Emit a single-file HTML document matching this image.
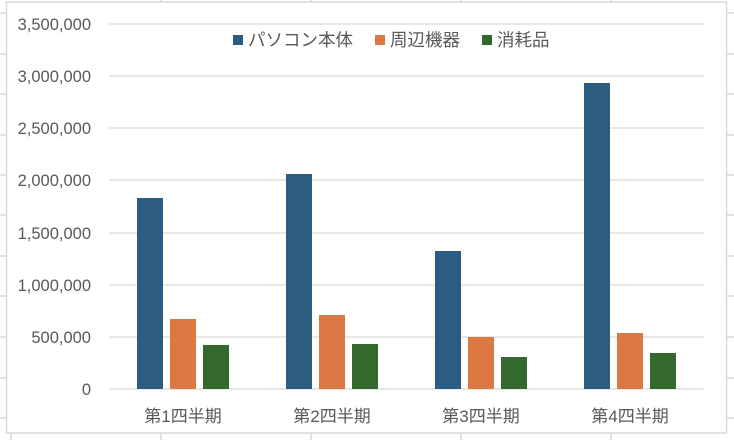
<!DOCTYPE html>
<html><head><meta charset="utf-8"><style>
body{margin:0;background:#fff}
svg{display:block}
text{font-family:"Liberation Sans","Noto Sans CJK JP",sans-serif;fill:#595959}
</style></head><body>
<svg width="734" height="440" xmlns="http://www.w3.org/2000/svg">
<g stroke="#d9d9d9" stroke-width="1.5">
<line x1="0" y1="13" x2="6" y2="13"/><line x1="0" y1="54" x2="6" y2="54"/><line x1="0" y1="94" x2="6" y2="94"/>
<line x1="0" y1="135" x2="6" y2="135"/><line x1="0" y1="175" x2="6" y2="175"/><line x1="0" y1="215" x2="6" y2="215"/>
<line x1="0" y1="256" x2="6" y2="256"/><line x1="0" y1="296" x2="6" y2="296"/><line x1="0" y1="337" x2="6" y2="337"/>
<line x1="0" y1="378" x2="6" y2="378"/><line x1="0" y1="418" x2="6" y2="418"/>
<line x1="727" y1="13" x2="734" y2="13"/><line x1="727" y1="54" x2="734" y2="54"/><line x1="727" y1="94" x2="734" y2="94"/>
<line x1="727" y1="135" x2="734" y2="135"/><line x1="727" y1="175" x2="734" y2="175"/><line x1="727" y1="215" x2="734" y2="215"/>
<line x1="727" y1="256" x2="734" y2="256"/><line x1="727" y1="296" x2="734" y2="296"/><line x1="727" y1="337" x2="734" y2="337"/>
<line x1="727" y1="378" x2="734" y2="378"/><line x1="727" y1="418" x2="734" y2="418"/>
<line x1="11" y1="433" x2="11" y2="440"/><line x1="161" y1="433" x2="161" y2="440"/><line x1="311" y1="433" x2="311" y2="440"/><line x1="461" y1="433" x2="461" y2="440"/><line x1="611" y1="433" x2="611" y2="440"/>
<line x1="161" y1="0" x2="161" y2="2"/><line x1="311" y1="0" x2="311" y2="2"/><line x1="461" y1="0" x2="461" y2="2"/><line x1="611" y1="0" x2="611" y2="2"/>
</g>
<rect x="6.5" y="2" width="720" height="431" fill="#fff" stroke="#d9d9d9" stroke-width="1.5"/>
<g stroke="#d9d9d9" stroke-width="1.3">
<line x1="109" y1="24" x2="704" y2="24"/><line x1="109" y1="76" x2="704" y2="76"/><line x1="109" y1="128" x2="704" y2="128"/>
<line x1="109" y1="180" x2="704" y2="180"/><line x1="109" y1="233" x2="704" y2="233"/><line x1="109" y1="285" x2="704" y2="285"/>
<line x1="109" y1="337" x2="704" y2="337"/><line x1="109" y1="389" x2="704" y2="389"/>
</g>
<g font-size="16.5" text-anchor="end">
<text x="91" y="30">3,500,000</text><text x="91" y="82">3,000,000</text><text x="91" y="134">2,500,000</text>
<text x="91" y="186">2,000,000</text><text x="91" y="239">1,500,000</text><text x="91" y="291">1,000,000</text>
<text x="91" y="343">500,000</text><text x="91" y="395">0</text>
</g>
<g>
<rect x="137" y="198" width="26" height="191" fill="#2c5d80"/><rect x="170" y="319" width="26" height="70" fill="#dc7843"/><rect x="203" y="345" width="26" height="44" fill="#33692c"/>
<rect x="286" y="174" width="26" height="215" fill="#2c5d80"/><rect x="319" y="315" width="26" height="74" fill="#dc7843"/><rect x="352" y="344" width="26" height="45" fill="#33692c"/>
<rect x="435" y="251" width="26" height="138" fill="#2c5d80"/><rect x="468" y="337" width="26" height="52" fill="#dc7843"/><rect x="501" y="357" width="26" height="32" fill="#33692c"/>
<rect x="584" y="83" width="26" height="306" fill="#2c5d80"/><rect x="617" y="333" width="26" height="56" fill="#dc7843"/><rect x="650" y="353" width="26" height="36" fill="#33692c"/>
</g>
<g font-size="17" text-anchor="middle">
<text x="183" y="422">第1四半期</text><text x="332" y="422">第2四半期</text><text x="481" y="422">第3四半期</text><text x="630" y="422">第4四半期</text>
</g>
<g font-size="17.5">
<rect x="233" y="35" width="10" height="10" fill="#2c5d80"/><text x="248" y="46">パソコン本体</text>
<rect x="375" y="35" width="10" height="10" fill="#dc7843"/><text x="390" y="46">周辺機器</text>
<rect x="482" y="35" width="10" height="10" fill="#33692c"/><text x="497" y="46">消耗品</text>
</g>
</svg>
</body></html>
